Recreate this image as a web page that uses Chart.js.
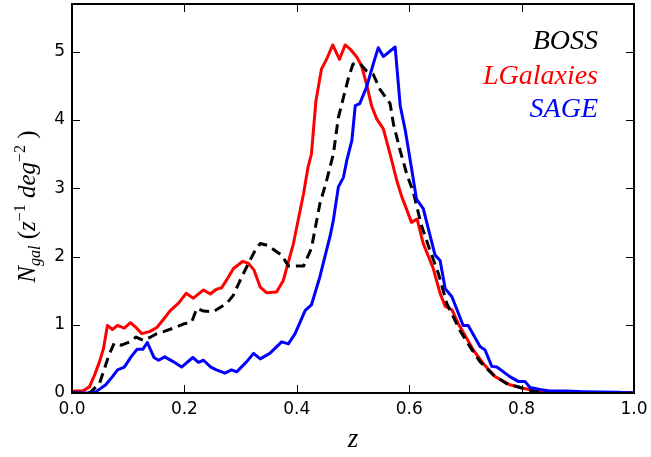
<!DOCTYPE html>
<html>
<head>
<meta charset="utf-8">
<script src="https://cdn.jsdelivr.net/npm/chart.js@4/dist/chart.umd.min.js"></script>
<style>
  html, body { margin: 0; padding: 0; background: #fff; }
  #wrap { width: 651px; height: 457px; }
</style>
</head>
<body>
<div id="wrap"><canvas id="nz" width="651" height="457"></canvas></div>
<script>
// Redshift distributions N_gal(z)
const bossZ = [0.0, 0.03, 0.034, 0.049, 0.057, 0.066, 0.075, 0.088, 0.103, 0.114, 0.127, 0.14, 0.151, 0.163, 0.18, 0.198, 0.213, 0.222, 0.234, 0.251, 0.275, 0.287, 0.302, 0.314, 0.326, 0.335, 0.349, 0.373, 0.385, 0.412, 0.426, 0.441, 0.453, 0.465, 0.474, 0.483, 0.492, 0.5, 0.512, 0.524, 0.536, 0.548, 0.566, 0.572, 0.584, 0.596, 0.607, 0.622, 0.637, 0.652, 0.667, 0.69, 0.708, 0.726, 0.75, 0.773, 0.797, 0.82, 0.85, 1.0];
const bossN = [0, 0, 0.02, 0.14, 0.34, 0.56, 0.73, 0.70, 0.75, 0.82, 0.77, 0.82, 0.87, 0.90, 0.95, 1.01, 1.04, 1.24, 1.20, 1.19, 1.31, 1.43, 1.70, 1.90, 2.09, 2.19, 2.16, 2.02, 1.86, 1.86, 2.12, 2.77, 3.11, 3.50, 4.04, 4.33, 4.62, 4.82, 4.83, 4.72, 4.67, 4.45, 4.24, 3.94, 3.55, 3.20, 2.95, 2.45, 2.09, 1.75, 1.31, 0.92, 0.68, 0.46, 0.26, 0.14, 0.08, 0.03, 0, 0];

const lgalZ = [0, 0.004, 0.019, 0.031, 0.04, 0.049, 0.056, 0.063, 0.072, 0.081, 0.093, 0.104, 0.114, 0.124, 0.138, 0.151, 0.163, 0.174, 0.19, 0.203, 0.216, 0.234, 0.246, 0.257, 0.266, 0.277, 0.287, 0.304, 0.314, 0.324, 0.335, 0.346, 0.364, 0.376, 0.394, 0.412, 0.42, 0.426, 0.434, 0.444, 0.453, 0.464, 0.476, 0.486, 0.495, 0.507, 0.515, 0.524, 0.533, 0.542, 0.554, 0.566, 0.578, 0.587, 0.596, 0.604, 0.614, 0.625, 0.643, 0.655, 0.664, 0.676, 0.687, 0.699, 0.714, 0.732, 0.753, 0.779, 0.803, 0.827, 0.85, 1.0];
const lgalN = [0, 0.03, 0.03, 0.09, 0.26, 0.46, 0.65, 0.99, 0.93, 0.99, 0.95, 1.03, 0.96, 0.87, 0.90, 0.96, 1.08, 1.20, 1.32, 1.46, 1.39, 1.51, 1.45, 1.52, 1.54, 1.68, 1.82, 1.93, 1.90, 1.80, 1.55, 1.47, 1.48, 1.65, 2.19, 2.92, 3.31, 3.50, 4.28, 4.75, 4.89, 5.10, 4.89, 5.10, 5.04, 4.92, 4.80, 4.53, 4.21, 4.02, 3.87, 3.50, 3.11, 2.87, 2.68, 2.50, 2.55, 2.19, 1.82, 1.46, 1.27, 1.22, 1.02, 0.85, 0.63, 0.43, 0.24, 0.12, 0.07, 0.03, 0, 0];

const sageZ = [0, 0.035, 0.043, 0.06, 0.072, 0.081, 0.093, 0.106, 0.116, 0.126, 0.134, 0.146, 0.154, 0.165, 0.18, 0.195, 0.215, 0.225, 0.234, 0.247, 0.257, 0.272, 0.284, 0.293, 0.311, 0.323, 0.335, 0.352, 0.373, 0.385, 0.397, 0.415, 0.426, 0.441, 0.459, 0.465, 0.474, 0.483, 0.489, 0.498, 0.504, 0.512, 0.524, 0.536, 0.545, 0.554, 0.575, 0.584, 0.593, 0.604, 0.613, 0.625, 0.646, 0.655, 0.664, 0.676, 0.696, 0.705, 0.726, 0.735, 0.747, 0.756, 0.779, 0.794, 0.806, 0.815, 0.833, 0.85, 0.88, 0.91, 0.97, 1.0];
const sageN = [0, 0, 0.02, 0.12, 0.24, 0.34, 0.38, 0.54, 0.64, 0.64, 0.74, 0.52, 0.48, 0.53, 0.46, 0.38, 0.52, 0.45, 0.48, 0.38, 0.34, 0.29, 0.34, 0.31, 0.46, 0.58, 0.50, 0.58, 0.75, 0.72, 0.87, 1.21, 1.29, 1.70, 2.29, 2.53, 3.02, 3.16, 3.41, 3.70, 4.21, 4.24, 4.48, 4.82, 5.06, 4.93, 5.07, 4.21, 3.85, 3.30, 2.84, 2.70, 2.02, 1.94, 1.53, 1.41, 0.99, 0.99, 0.68, 0.63, 0.39, 0.38, 0.24, 0.17, 0.17, 0.08, 0.05, 0.03, 0.03, 0.02, 0.01, 0];

const seriesNames = ['BOSS', 'LGalaxies', 'SAGE'];
const seriesColors = ['#000000', '#ff0000', '#0000ff'];
const xTicks = [0, 0.2, 0.4, 0.6, 0.8, 1.0];
const yTicks = [0, 1, 2, 3, 4, 5];

function toPoints(zs, ns) {
  return zs.map((z, i) => ({ x: z, y: ns[i] }));
}

// frame, inward ticks (all four sides), legend text and axis titles
const decorations = {
  id: 'decorations',
  afterDraw(chart) {
    const { ctx, chartArea: a, scales } = chart;
    ctx.save();
    ctx.strokeStyle = '#000';

    // inward ticks
    ctx.lineWidth = 1;
    const tl = 8;
    ctx.beginPath();
    xTicks.forEach(v => {
      const px = Math.round(scales.x.getPixelForValue(v)) + 0.5;
      ctx.moveTo(px, a.bottom); ctx.lineTo(px, a.bottom - tl);
      ctx.moveTo(px, a.top); ctx.lineTo(px, a.top + tl);
    });
    yTicks.forEach(v => {
      const py = Math.round(scales.y.getPixelForValue(v)) + 0.5;
      ctx.moveTo(a.left, py); ctx.lineTo(a.left + tl, py);
      ctx.moveTo(a.right, py); ctx.lineTo(a.right - tl, py);
    });
    ctx.stroke();

    // frame
    ctx.lineWidth = 2;
    ctx.strokeRect(a.left, a.top, a.right - a.left, a.bottom - a.top);

    // legend (text only, right aligned)
    ctx.font = 'italic 28px "Liberation Serif", serif';
    ctx.textAlign = 'right';
    ctx.textBaseline = 'alphabetic';
    const legendY = [49, 84, 117];
    seriesNames.forEach((name, i) => {
      ctx.fillStyle = seriesColors[i];
      ctx.fillText(name, 598, legendY[i]);
    });

    // x title
    ctx.fillStyle = '#000';
    ctx.textAlign = 'center';
    ctx.font = 'italic 27px "Liberation Serif", serif';
    ctx.fillText('z', (a.left + a.right) / 2, 447);

    // y title, rotated, built from pieces for sub/superscripts
    const big = 25, small = 16;
    const pieces = [
      { t: 'N', f: `italic ${big}px "Liberation Serif", serif`, dy: 0 },
      { t: 'gal', f: `italic ${small}px "Liberation Serif", serif`, dy: 5 },
      { t: ' (', f: `${big}px "Liberation Serif", serif`, dy: 0 },
      { t: 'z', f: `italic ${big}px "Liberation Serif", serif`, dy: 0 },
      { t: '\u22121', f: `${small}px "Liberation Serif", serif`, dy: -10 },
      { t: ' deg', f: `italic ${big}px "Liberation Serif", serif`, dy: 0 },
      { t: '\u22122', f: `${small}px "Liberation Serif", serif`, dy: -10 },
      { t: ' )', f: `${big}px "Liberation Serif", serif`, dy: 0 },
    ];
    let total = 0;
    pieces.forEach(p => { ctx.font = p.f; p.w = ctx.measureText(p.t).width; total += p.w; });
    ctx.translate(35, (a.top + a.bottom) / 2 + 8);
    ctx.rotate(-Math.PI / 2);
    ctx.textAlign = 'left';
    let x = -total / 2;
    pieces.forEach(p => {
      ctx.font = p.f;
      ctx.fillText(p.t, x, p.dy);
      x += p.w;
    });
    ctx.restore();
  }
};

const ctx = document.getElementById('nz').getContext('2d');
new Chart(ctx, {
  type: 'line',
  data: {
    datasets: [
      {
        label: seriesNames[0],
        data: toPoints(bossZ, bossN),
        borderColor: seriesColors[0],
        borderWidth: 3,
        borderDash: [10, 6],
        order: 1,
      },
      {
        label: seriesNames[1],
        data: toPoints(lgalZ, lgalN),
        borderColor: seriesColors[1],
        borderWidth: 3,
        order: 2,
      },
      {
        label: seriesNames[2],
        data: toPoints(sageZ, sageN),
        borderColor: seriesColors[2],
        borderWidth: 3,
        order: 0,
      },
    ],
  },
  options: {
    responsive: false,
    animation: false,
    elements: {
      point: { radius: 0 },
      line: { tension: 0, borderJoinStyle: 'round', borderCapStyle: 'butt', fill: false },
    },
    layout: { padding: { left: 0, top: 4, right: 17, bottom: 0 } },
    plugins: { legend: { display: false }, tooltip: { enabled: false } },
    scales: {
      x: {
        type: 'linear',
        min: 0,
        max: 1,
        grid: { display: false, drawTicks: false },
        border: { display: false },
        afterBuildTicks: s => { s.ticks = xTicks.map(v => ({ value: v })); },
        afterFit: s => { s.height = 64; s.paddingLeft = 0; s.paddingRight = 0; },
        ticks: {
          padding: 6,
          color: '#000',
          font: { family: '"DejaVu Sans", sans-serif', size: 17 },
          callback: v => Number(v).toFixed(1),
          maxRotation: 0,
        },
      },
      y: {
        type: 'linear',
        min: 0,
        max: 5.7,
        grid: { display: false, drawTicks: false },
        border: { display: false },
        afterBuildTicks: s => { s.ticks = yTicks.map(v => ({ value: v })); },
        afterFit: s => { s.width = 72; s.paddingTop = 0; s.paddingBottom = 0; },
        ticks: {
          padding: 7,
          color: '#000',
          font: { family: '"DejaVu Sans", sans-serif', size: 17 },
          callback: v => String(v),
        },
      },
    },
  },
  plugins: [decorations],
});
</script>
</body>
</html>
